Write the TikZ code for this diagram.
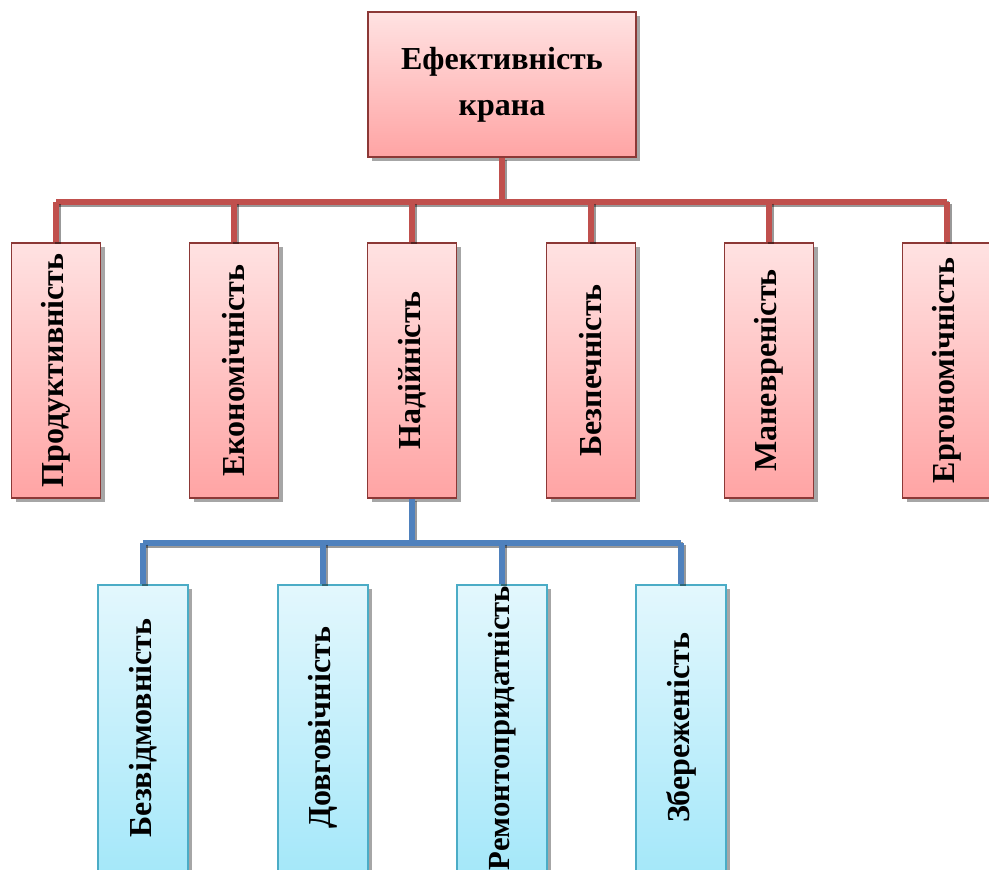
\documentclass[tikz,border=0pt]{standalone}
\usepackage{fontspec}
\setmainfont{Liberation Serif}
\usetikzlibrary{shadows}

\definecolor{redtop}{HTML}{FFE2E2}
\definecolor{redbot}{HTML}{FFA4A4}
\definecolor{redframe}{HTML}{8C3836}
\definecolor{redwire}{HTML}{C0504D}
\definecolor{bluetop}{HTML}{E3F7FD}
\definecolor{bluebot}{HTML}{A2E7F9}
\definecolor{blueframe}{HTML}{4BACC6}
\definecolor{bluewire}{HTML}{4F81BD}

\tikzset{
  boxshadow/.style={drop shadow={shadow xshift=3pt, shadow yshift=-3pt, fill=black, opacity=0.35}},
  mainbox/.style={draw=redframe, line width=1.2pt, top color=redtop, bottom color=redbot, boxshadow,
    minimum width=201pt, minimum height=108.75pt, align=center, inner sep=0pt,
    font=\fontsize{24}{34.5}\selectfont\bfseries},
  redbox/.style={draw=redframe, line width=1.2pt, top color=redtop, bottom color=redbot, boxshadow,
    minimum width=66.75pt, minimum height=191.25pt, inner sep=0pt},
  bluebox/.style={draw=blueframe, line width=1.2pt, top color=bluetop, bottom color=bluebot, boxshadow,
    minimum width=67.5pt, minimum height=225pt, inner sep=0pt},
  vtext/.style={rotate=90, inner sep=0pt, font=\fontsize{24}{28}\selectfont\bfseries},
  wireshadow/.style={preaction={draw=black, opacity=0.4, line width=3.8pt,
    transform canvas={xshift=1.5pt, yshift=-1.5pt}}},
  redwire/.style={draw=redwire, line width=3.8pt, wireshadow},
  bluewire/.style={draw=bluewire, line width=3.8pt, wireshadow},
}

\begin{document}
\begin{tikzpicture}[x=0.75pt, y=0.75pt]
  \useasboundingbox (0,0) rectangle (989,870);

  % bus heights
  \coordinate (rbus) at (0,668);
  \coordinate (bbus) at (0,327);

  \node[mainbox] (eff) at (502,785.5) {Ефективність\\крана};

  \node[redbox] (prod) at (56,499.5) {};
  \node[redbox] (econ) at (234,499.5) {};
  \node[redbox] (rel) at (412,499.5) {};
  \node[redbox] (safe) at (591,499.5) {};
  \node[redbox] (man) at (769,499.5) {};
  \node[redbox] (erg) at (947,499.5) {};

  \node[bluebox] (fail) at (143,135) {};
  \node[bluebox] (dur) at (323,135) {};
  \node[bluebox] (rep) at (502,135) {};
  \node[bluebox] (stor) at (681,135) {};

  \draw[redwire] (eff.south) -- (eff.south |- rbus);
  \draw[redwire] (prod.north |- rbus) -- (erg.north |- rbus);
  \foreach \b in {prod,econ,rel,safe,man,erg}
    \draw[redwire] (\b.north |- rbus) -- (\b.north);

  \draw[bluewire] (rel.south) -- (rel.south |- bbus);
  \draw[bluewire] (fail.north |- bbus) -- (stor.north |- bbus);
  \foreach \b in {fail,dur,rep,stor}
    \draw[bluewire] (\b.north |- bbus) -- (\b.north);

  \node[vtext] (prodt) at (prod) {Продуктивність};
  \node[vtext] (econt) at (econ) {Економічність};
  \node[vtext] (relt) at (rel) {Надійність};
  \node[vtext] (safet) at (safe) {Безпечність};
  \node[vtext] (mant) at (man) {Маневреність};
  \node[vtext] (ergt) at (erg) {Ергономічність};

  \node[vtext] (failt) at ([yshift=5.25pt]fail) {Безвідмовність};
  \node[vtext] (durt) at ([yshift=5.25pt]dur) {Довговічність};
  \node[vtext, font=\fontsize{23}{28}\selectfont\bfseries] (rept) at ([yshift=5.25pt]rep) {Ремонтопридатність};
  \node[vtext] (stort) at ([yshift=5.25pt]stor) {Збереженість};
\end{tikzpicture}
\end{document}
